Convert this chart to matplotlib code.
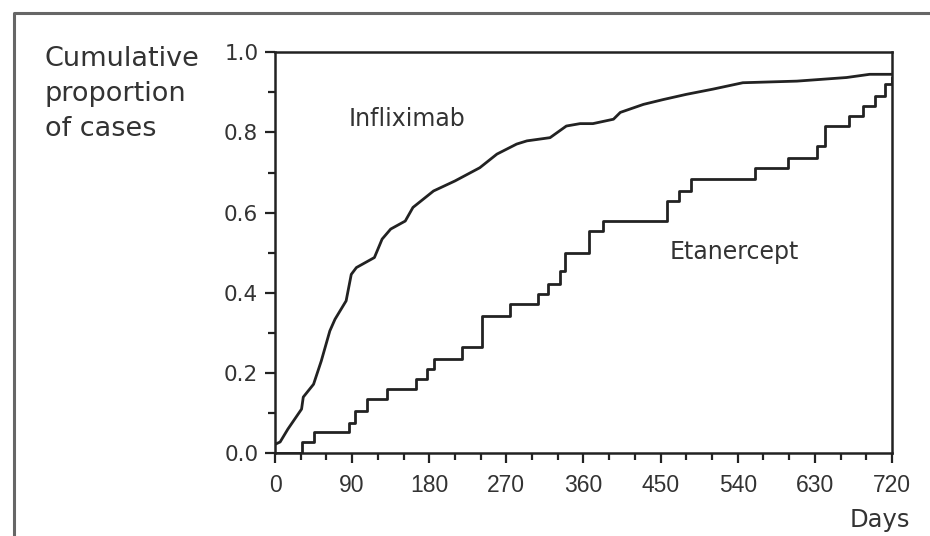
import matplotlib.pyplot as plt
from matplotlib.lines import Line2D
from matplotlib.ticker import MultipleLocator
from matplotlib import font_manager

# Infliximab: days and cumulative proportion
inflix_days = [0, 6, 15, 31, 33, 45, 54, 64, 70, 83, 89, 95, 116, 125, 135, 152, 161,
               185, 210, 239, 259, 282, 294, 321, 340, 356, 371, 395, 403, 430, 453, 480,
               511, 546, 609, 667, 694, 720]
inflix_prop = [0.022, 0.028, 0.06, 0.11, 0.14, 0.172, 0.23, 0.305, 0.334, 0.38, 0.446,
               0.463, 0.488, 0.534, 0.559, 0.579, 0.613, 0.654, 0.679, 0.712, 0.746, 0.771,
               0.779, 0.787, 0.816, 0.822, 0.822, 0.833, 0.85, 0.87, 0.882, 0.895, 0.908,
               0.924, 0.928, 0.937, 0.945, 0.945]

# Etanercept: step times and cumulative proportion
etan_days = [0, 31, 45, 86, 93, 107, 131, 164, 177, 185, 218, 241, 274, 307, 319, 333,
             338, 366, 383, 457, 471, 486, 560, 599, 632, 642, 670, 686, 700, 712, 720]
etan_prop = [0.0, 0.027, 0.052, 0.076, 0.105, 0.135, 0.16, 0.185, 0.21, 0.234, 0.264,
             0.342, 0.372, 0.397, 0.421, 0.455, 0.50, 0.554, 0.579, 0.629, 0.654, 0.683,
             0.712, 0.737, 0.766, 0.816, 0.841, 0.866, 0.891, 0.92, 0.937]

x_ticks = [0, 90, 180, 270, 360, 450, 540, 630, 720]
y_ticks = [0.0, 0.2, 0.4, 0.6, 0.8, 1.0]

ink = '#222222'
txt = '#333333'
plt.rcParams['font.family'] = 'DejaVu Sans'

names = {f.name for f in font_manager.fontManager.ttflist}
if 'Liberation Sans Narrow' in names:
    xfont, xsize = 'Liberation Sans Narrow', 18.5
else:
    xfont, xsize = 'Liberation Sans', 16.5

fig = plt.figure(figsize=(9.3, 5.36), dpi=100)
ax = fig.add_axes([0.2957, 0.1545, 0.6634, 0.748])

ax.plot(inflix_days, inflix_prop, color=ink, lw=2.0)
ax.plot(etan_days, etan_prop, drawstyle='steps-post', color=ink, lw=2.0)

ax.set_xlim(0, 720)
ax.set_ylim(0, 1.0)
ax.set_xticks(x_ticks)
ax.set_yticks(y_ticks)
ax.set_yticklabels([f'{v:.1f}' for v in y_ticks])
ax.xaxis.set_minor_locator(MultipleLocator(30))
ax.yaxis.set_minor_locator(MultipleLocator(0.1))

for s in ax.spines.values():
    s.set_linewidth(1.8)
    s.set_color(ink)

ax.tick_params(which='major', length=7, width=1.6, color=ink, direction='out')
ax.tick_params(which='minor', length=5, width=1.6, color=ink, direction='out')
ax.tick_params(axis='y', labelsize=15.5, labelcolor=txt, pad=5)
ax.tick_params(axis='x', labelsize=xsize, labelcolor=txt, pad=8)
for lab in ax.get_xticklabels():
    lab.set_family(xfont)

ax.text(154, 0.833, 'Infliximab', fontsize=17, color=txt, ha='center', va='center')
ax.text(536, 0.502, 'Etanercept', fontsize=17, color=txt, ha='center', va='center')

fig.text(0.048, 0.915, 'Cumulative\nproportion\nof cases', fontsize=19.5, color=txt,
         ha='left', va='top', linespacing=1.45)
fig.text(0.979, 0.052, 'Days', fontsize=17.5, color=txt, ha='right', va='top')

# outer frame (left and top edges visible)
fig.add_artist(Line2D([0.015, 0.015, 1.1], [-0.1, 0.9757, 0.9757],
                      transform=fig.transFigure, color='#666666', lw=2.2))

fig.savefig('out.png', dpi=100)
